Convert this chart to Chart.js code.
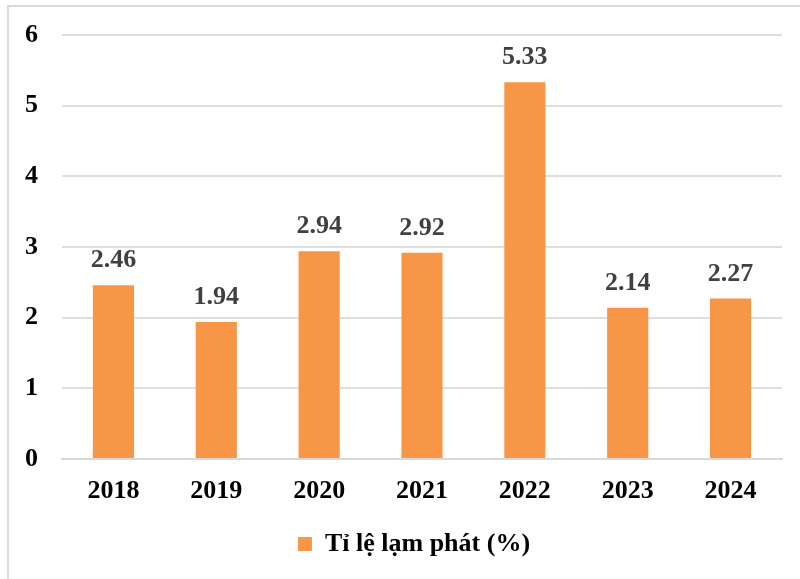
<!DOCTYPE html>
<html>
<head>
<meta charset="utf-8">
<script src="https://cdn.jsdelivr.net/npm/chart.js@4.4.1/dist/chart.umd.min.js"></script>
<style>
  body { margin: 0; background: #fff; }
  #wrap { position: relative; width: 800px; height: 579px; }
  #frame { position: absolute; left: 7px; top: 5px; right: 0; bottom: 0; border-left: 2px solid #d9d9d9; border-top: 2px solid #d9d9d9; }
  canvas { position: absolute; left: 0; top: 0; }
</style>
</head>
<body>
<div id="wrap">
  <div id="frame"></div>
  <canvas id="chart" width="800" height="579"></canvas>
</div>
<script>
const years = ["2018", "2019", "2020", "2021", "2022", "2023", "2024"]
const inflation = [2.46, 1.94, 2.94, 2.92, 5.33, 2.14, 2.27]
const seriesName = "Tỉ lệ lạm phát (%)"

const font = "'Liberation Serif', 'Times New Roman', serif"

// value labels above each bar
const valueLabels = {
  id: "valueLabels",
  afterDatasetsDraw(chart) {
    const ctx = chart.ctx
    const meta = chart.getDatasetMeta(0)
    ctx.save()
    ctx.font = "bold 26px " + font
    ctx.fillStyle = "#404040"
    ctx.textAlign = "center"
    ctx.textBaseline = "alphabetic"
    meta.data.forEach((bar, i) => {
      ctx.fillText(inflation[i].toFixed(2), bar.x, bar.y - 18)
    })
    ctx.restore()
  },
}

// center the legend under the plot area rather than the whole canvas
const legendShift = {
  id: "legendShift",
  beforeDraw(chart) {
    if (chart.legend) chart.legend.left = 46
  },
}

new Chart(document.getElementById("chart"), {
  type: "bar",
  data: {
    labels: years,
    datasets: [
      {
        label: seriesName,
        data: inflation,
        backgroundColor: "#F79646",
        categoryPercentage: 1,
        barPercentage: 0.4,
      },
    ],
  },
  options: {
    responsive: false,
    animation: false,
    layout: { padding: { top: 35, right: 18, bottom: 12, left: 0 } },
    plugins: {
      legend: {
        position: "bottom",
        labels: {
          font: { family: font, size: 26, weight: "bold" },
          color: "#000",
          boxWidth: 14,
          boxHeight: 14,
          padding: 10,
        },
      },
      tooltip: { enabled: false },
    },
    scales: {
      x: {
        grid: { display: false, drawTicks: false },
        border: { color: "#d9d9d9", width: 2 },
        ticks: {
          font: { family: font, size: 26, weight: "bold" },
          color: "#000",
          padding: 17,
        },
        afterFit(scale) { scale.height = 62 },
      },
      y: {
        min: 0,
        max: 6,
        ticks: {
          stepSize: 1,
          font: { family: font, size: 26, weight: "bold" },
          color: "#000",
          padding: 24,
        },
        grid: { color: "#dedede", lineWidth: 2, drawTicks: false },
        border: { display: false },
        afterFit(scale) {
          scale.width = 62
          scale.paddingTop = 0
          scale.paddingBottom = 0
        },
      },
    },
  },
  plugins: [valueLabels, legendShift],
})
</script>
</body>
</html>
